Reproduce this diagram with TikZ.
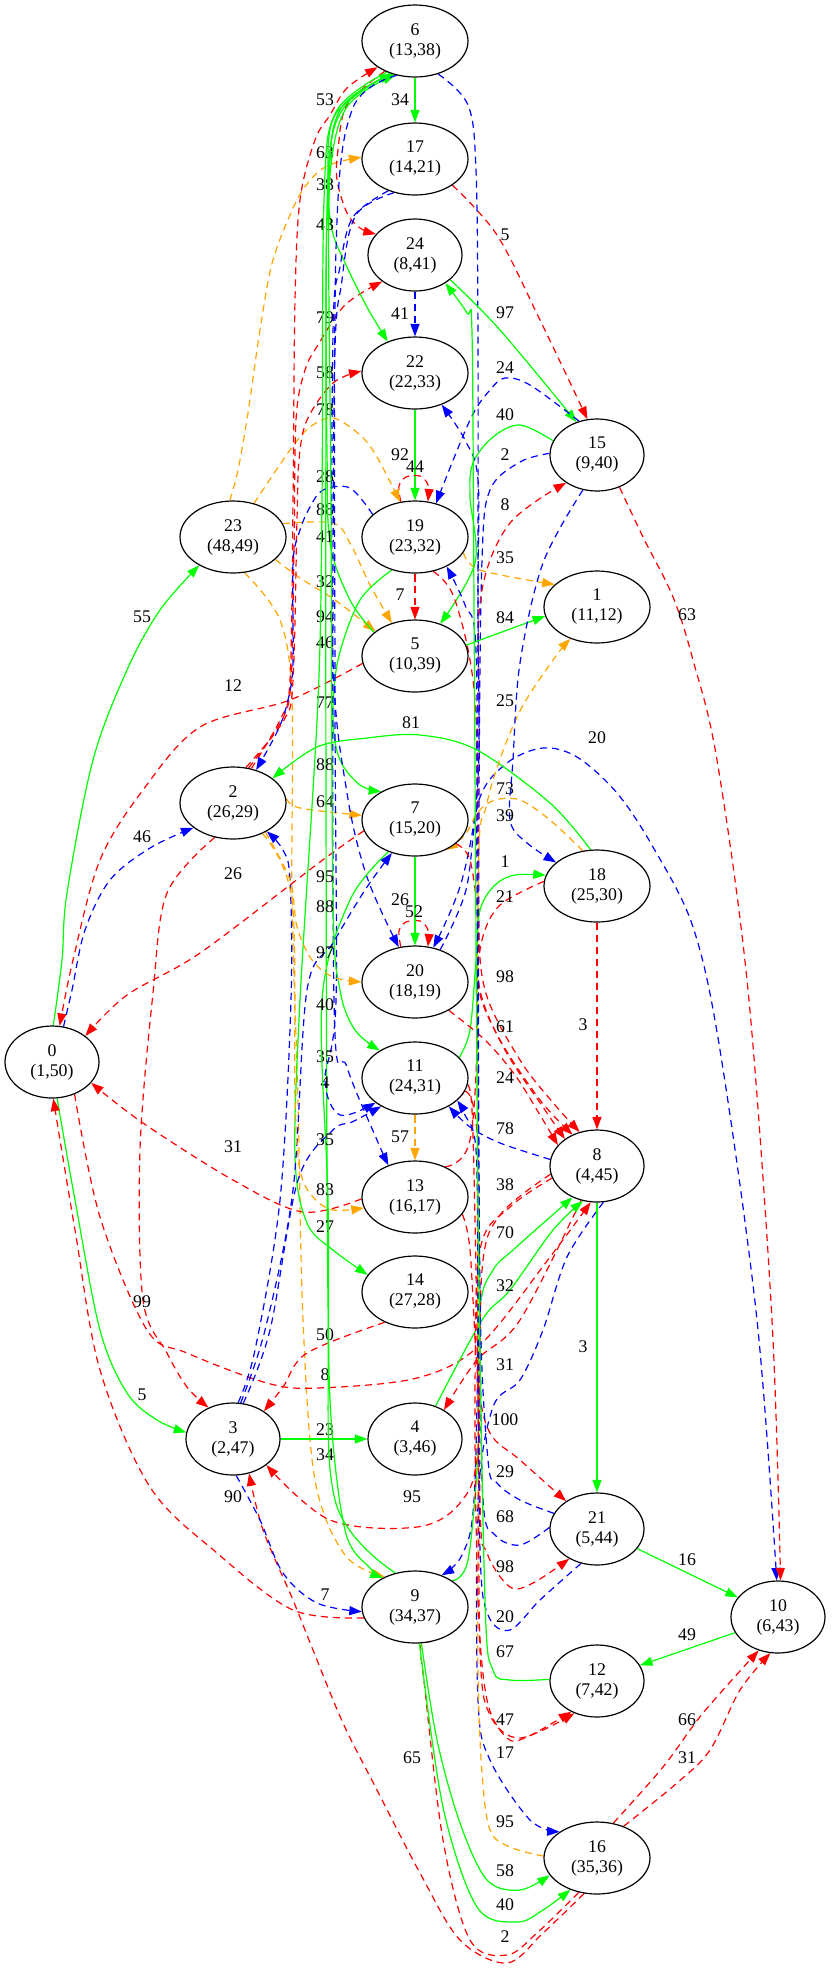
\documentclass[tikz,border=0pt]{standalone}
\usepackage{fontspec}
\setmainfont{Liberation Serif}
\usetikzlibrary{arrows.meta,shapes.geometric,backgrounds}
\definecolor{gvgreen}{HTML}{00FF00}
\definecolor{gvred}{HTML}{FF0000}
\definecolor{gvblue}{HTML}{0000FF}
\definecolor{gvorange}{HTML}{FFA500}
% one edge: style, route (start anchor, bends, end anchor), label name, label position, label text
\newcommand\gvedge[5]{\draw[#1] plot[smooth,tension=0.55] coordinates {#2} node[lab] (#3) at (#4) {#5};}
\begin{document}
\begin{tikzpicture}[x=1pt,y=-1pt,
  every node/.style={font=\fontsize{17.8}{20}\selectfont},
  vtx/.style={draw,ellipse,fill=white,line width=1.2pt,minimum height=72pt,inner sep=0pt,align=center},
  wide/.style={vtx,minimum width=106pt},
  narrow/.style={vtx,minimum width=94pt},
  lab/.style={inner sep=0pt},
  base/.style={line width=1.2pt,-{Triangle[length=12.5pt,width=9pt]}},
  G/.style={base,draw=gvgreen},
  R/.style={base,draw=gvred,dash pattern=on 7pt off 5pt},
  B/.style={base,draw=gvblue,dash pattern=on 7pt off 5pt},
  O/.style={base,draw=gvorange,dash pattern=on 7pt off 5pt}]

\useasboundingbox (0,0) rectangle (831,1971);

% vertices
\node[wide] (n6) at (415,41) {6\\(13,38)};
\node[wide] (n17) at (415,159) {17\\(14,21)};
\node[narrow] (n24) at (415,255) {24\\(8,41)};
\node[wide] (n22) at (415,373) {22\\(22,33)};
\node[narrow] (n15) at (597,455) {15\\(9,40)};
\node[wide] (n23) at (233,537) {23\\(48,49)};
\node[wide] (n19) at (415,537) {19\\(23,32)};
\node[wide] (n1) at (597,607) {1\\(11,12)};
\node[wide] (n5) at (415,656) {5\\(10,39)};
\node[wide] (n2) at (233,803) {2\\(26,29)};
\node[wide] (n7) at (415,820) {7\\(15,20)};
\node[wide] (n18) at (597,886) {18\\(25,30)};
\node[wide] (n20) at (415,982) {20\\(18,19)};
\node[narrow] (n0) at (52,1062) {0\\(1,50)};
\node[wide] (n11) at (415,1078) {11\\(24,31)};
\node[narrow] (n8) at (597,1166) {8\\(4,45)};
\node[wide] (n13) at (415,1197) {13\\(16,17)};
\node[wide] (n14) at (415,1292) {14\\(27,28)};
\node[narrow] (n3) at (233,1439) {3\\(2,47)};
\node[narrow] (n4) at (415,1439) {4\\(3,46)};
\node[narrow] (n21) at (597,1529) {21\\(5,44)};
\node[wide] (n9) at (415,1607) {9\\(34,37)};
\node[narrow] (n10) at (778,1617) {10\\(6,43)};
\node[narrow] (n12) at (597,1681) {12\\(7,42)};
\node[wide] (n16) at (597,1858) {16\\(35,36)};

\begin{pgfonlayer}{background}
\fill[white] (0,0) rectangle (831,1971);

% upper part
\gvedge{G}{(n6.south) (n17.north)}{e1}{400,100}{34}
\gvedge{R}{(n17.-35) (497,235) (540,320) (n15.105)}{e2}{505,235}{5}
\gvedge{B}{(n6.-55) (468,105) (476,170) (478,340) (478,600) (478,780) (462,880) (n20.62)}{e3}{505,701}{25}
\gvedge{B}{(n20.52) (466,890) (479,800) (507,763) (543,748) (577,757) (617,793) (653,847) (693,927) (720,1050) (757,1320) (n10.92)}{e4}{597,738}{20}
\gvedge{R}{(n15.-55) (643,537) (673,597) (693,660) (717,760) (748,990) (772,1320) (n10.86)}{e5}{687,615}{63}
\gvedge{G}{(n24.-35) (500,330) (n15.122)}{e6}{505,313}{97}
\gvedge{B}{(n15.118) (530,385) (505,378) (490,390) (470,420) (n19.58)}{e7}{505,368}{24}
\gvedge{G}{(n15.162) (520,425) (493,437) (473,463) (470,497) (475,563) (n5.52)}{e8}{505,415}{40}
\gvedge{B}{(n15.178) (520,462) (490,490) (482,560) (479,800) (478,1300) (474,1500) (462,1555) (n9.50)}{e9}{505,455}{2}
\gvedge{R}{(n13.45) (470,1140) (478,1000) (478,700) (482,590) (510,523) (n15.-138)}{e10}{505,505}{8}
\gvedge{O}{(n19.-18) (480,570) (n1.152)}{e11}{505,558}{35}
\gvedge{G}{(n5.12) (n1.190)}{e12}{505,618}{84}
\gvedge{R}{(n19.south) (n5.north)}{e13}{400,595}{7}
\gvedge{G}{(n22.south) (n19.north)}{e14}{415,467}{44}
\gvedge{B}{(n24.south) (n22.north)}{e15}{400,314}{41}
\gvedge{R}{(n19.112) (399,486) (406,477) (420,476) (428,485) (n19.70)}{e16}{400,455}{92}
\gvedge{R}{(n20.112) (399,931) (406,922) (420,921) (428,930) (n20.70)}{e17}{400,900}{26}
\gvedge{G}{(n7.south) (n20.north)}{e18}{414,912}{52}

% edges leaving 23
\gvedge{O}{(n23.95) (238,470) (248,413) (260,330) (273,260) (297,200) (317,173) (335,163) (n17.178)}{e19}{325,153}{63}
\gvedge{O}{(n23.58) (290,450) (310,427) (333,418) (360,435) (377,457) (n19.113)}{e20}{325,410}{78}
\gvedge{O}{(n23.15) (333,523) (350,543) (370,585) (n5.125)}{e21}{325,510}{88}
\gvedge{O}{(n23.-28) (300,578) (335,600) (n5.148)}{e22}{325,582}{32}
\gvedge{O}{(n23.-72) (280,620) (292,700) (292,900) (298,1100) (303,1320) (315,1480) (345,1555) (n9.135)}{e23}{325,1455}{34}

% left side
\gvedge{G}{(n0.88) (62,960) (67,893) (93,760) (127,670) (160,610) (n23.-140)}{e24}{142,617}{55}
\gvedge{R}{(n5.188) (290,700) (200,727) (143,790) (100,860) (73,960) (n0.78)}{e25}{233,686}{12}
\gvedge{B}{(n0.72) (72,990) (85,930) (110,880) (150,848) (n2.-148)}{e26}{142,837}{46}
\gvedge{R}{(n7.192) (320,862) (200,953) (127,995) (n0.38)}{e27}{233,874}{26}
\gvedge{O}{(n2.5) (300,808) (n7.175)}{e28}{325,802}{64}
\gvedge{G}{(n18.100) (550,803) (477,750) (420,735) (367,738) (317,747) (n2.32)}{e29}{411,723}{81}
\gvedge{R}{(n13.182) (303,1212) (233,1180) (143,1123) (n0.-28)}{e30}{233,1147}{31}
\gvedge{R}{(n2.-118) (167,893) (153,993) (140,1150) (143,1300) (167,1353) (187,1387) (n3.128)}{e31}{142,1302}{99}
\gvedge{G}{(n0.-82) (75,1200) (100,1330) (127,1393) (157,1420) (n3.172)}{e32}{142,1395}{5}
\gvedge{R}{(n9.-168) (293,1610) (217,1553) (150,1487) (100,1370) (75,1230) (n0.-88)}{e33}{233,1497}{90}
\gvedge{R}{(n0.-55) (100,1217) (147,1330) (187,1353) (267,1383) (317,1388) (417,1378) (480,1345) (550,1257) (n8.-100)}{e34}{325,1375}{8}

% around 8, 4, 21
\gvedge{R}{(n8.-115) (520,1320) (477,1360) (n4.45)}{e35}{505,1365}{31}
\gvedge{G}{(n4.58) (482,1320) (510,1290) (553,1230) (n8.-112)}{e36}{505,1286}{32}
\gvedge{G}{(n9.35) (468,1560) (478,1450) (480,1310) (493,1270) (513,1250) (n8.-128)}{e37}{505,1233}{70}
\gvedge{B}{(n8.-80) (567,1257) (543,1330) (520,1380) (493,1407) (478,1500) (478,1700) (490,1760) (530,1820) (n16.145)}{e38}{505,1753}{17}
\gvedge{R}{(n18.south) (n8.north)}{e39}{583,1025}{3}
\gvedge{G}{(n8.south) (n21.north)}{e40}{583,1347}{3}
\gvedge{G}{(n21.-26) (n10.154)}{e41}{687,1560}{16}
\gvedge{G}{(n10.-160) (n12.20)}{e42}{687,1635}{49}
\gvedge{R}{(n16.65) (663,1767) (703,1713) (n10.-120)}{e43}{687,1720}{66}
\gvedge{R}{(n16.50) (677,1783) (710,1750) (740,1690) (n10.-102)}{e44}{687,1758}{31}

% bottom
\gvedge{R}{(n16.-110) (543,1933) (507,1963) (460,1940) (420,1873) (377,1790) (343,1723) (313,1650) (293,1600) (263,1530) (n3.-65)}{e45}{412,1758}{65}
\gvedge{R}{(n16.-118) (537,1933) (507,1955) (470,1940) (443,1840) (423,1673) (n9.-85)}{e46}{505,1937}{2}
\gvedge{G}{(n9.-80) (437,1740) (460,1823) (487,1880) (520,1890) (n16.-160)}{e47}{505,1871}{58}
\gvedge{G}{(n9.-83) (443,1807) (477,1907) (517,1922) (543,1910) (n16.-130)}{e48}{505,1905}{40}
\gvedge{O}{(n16.178) (510,1847) (490,1830) (482,1773) (478,1673) (478,1500) (478,900) (487,803) (517,717) (553,660) (n1.-130)}{e49}{505,1822}{95}

% right bundle
\gvedge{O}{(n18.112) (550,820) (520,800) (495,800) (478,812) (465,835) (n7.-45)}{e50}{505,789}{73}
\gvedge{B}{(n15.-112) (543,563) (520,663) (513,760) (510,820) (527,843) (n18.150)}{e51}{505,816}{39}
\gvedge{G}{(n11.25) (470,1030) (476,960) (480,910) (495,885) (515,875) (n18.168)}{e52}{505,862}{1}
\gvedge{R}{(n18.175) (500,905) (482,940) (479,990) (500,1040) (540,1100) (n8.128)}{e53}{505,897}{21}
\gvedge{R}{(n7.-30) (470,860) (478,920) (480,990) (505,1050) (545,1110) (n8.140)}{e54}{505,977}{98}
\gvedge{R}{(n19.-62) (455,600) (475,700) (478,900) (485,990) (520,1060) (555,1105) (n8.117)}{e55}{505,1027}{61}
\gvedge{R}{(n20.-40) (485,1040) (515,1075) (540,1115) (n8.152)}{e56}{505,1078}{24}
\gvedge{B}{(n8.172) (500,1143) (470,1127) (n11.-40)}{e57}{505,1129}{78}
\gvedge{R}{(n8.-165) (510,1207) (480,1250) (475,1400) (478,1600) (487,1700) (507,1738) (527,1737) (n12.-130)}{e58}{505,1185}{38}
\gvedge{R}{(n11.-20) (472,1110) (478,1400) (480,1650) (490,1715) (520,1738) (n12.-125)}{e59}{505,1720}{47}
\gvedge{R}{(n8.-170) (500,1215) (482,1270) (478,1450) (460,1503) (417,1527) (330,1520) (n3.-38)}{e60}{412,1497}{95}
\gvedge{R}{(n13.-20) (470,1250) (478,1380) (490,1433) (520,1460) (n21.138)}{e61}{505,1420}{100}
\gvedge{R}{(n11.-15) (478,1150) (480,1500) (487,1553) (510,1587) (533,1583) (n21.-133)}{e62}{505,1567}{98}
\gvedge{B}{(n21.160) (520,1500) (497,1483) (488,1460) (480,1300) (478,900) (478,600) (478,480) (465,440) (n22.-50)}{e63}{505,1472}{29}
\gvedge{B}{(n21.178) (520,1545) (495,1535) (483,1500) (480,1300) (477,900) (476,650) (465,605) (n19.-43)}{e64}{505,1517}{68}
\gvedge{B}{(n21.-115) (540,1600) (510,1630) (488,1615) (480,1550) (478,1300) (476,1150) (465,1115) (n11.-28)}{e65}{505,1617}{20}
\gvedge{G}{(n12.178) (510,1680) (493,1670) (485,1600) (478,1200) (474,600) (472,333) (467,313) (n24.-43)}{e66}{505,1652}{67}

% middle column
\gvedge{O}{(n11.south) (n13.north)}{e67}{400,1137}{57}
\gvedge{G}{(n3.east) (n4.west)}{e68}{325,1430}{23}
\gvedge{B}{(n3.-85) (260,1520) (283,1573) (317,1603) (n9.-175)}{e69}{325,1595}{7}
\gvedge{R}{(n14.-135) (307,1353) (283,1387) (n3.42)}{e70}{325,1335}{50}

% left bundle
\gvedge{R}{(n2.62) (280,720) (290,680) (293,500) (295,300) (300,200) (315,140) (330,115) (347,88) (n6.-145)}{e71}{325,100}{53}
\gvedge{R}{(n2.66) (282,720) (291,680) (294,550) (296,420) (305,370) (318,345) (345,305) (n24.-141)}{e72}{325,318}{79}
\gvedge{R}{(n2.70) (284,720) (293,680) (297,520) (299,460) (307,420) (333,383) (n22.178)}{e73}{325,373}{58}
\gvedge{R}{(n6.-135) (347,105) (338,150) (337,180) (347,213) (360,228) (n24.152)}{e74}{325,185}{38}
\gvedge{G}{(n6.-128) (335,115) (328,180) (332,230) (347,267) (367,307) (n22.131)}{e75}{325,225}{43}
\gvedge{G}{(n5.150) (350,600) (330,543) (327,450) (326,300) (330,150) (350,100) (n6.-125)}{e76}{325,537}{41}
\gvedge{G}{(n9.120) (335,1500) (328,1300) (326,800) (326,400) (328,200) (345,110) (n6.-120)}{e77}{325,643}{46}
\gvedge{B}{(n19.152) (350,488) (323,490) (310,507) (300,530) (293,563) (293,663) (288,700) (278,730) (n2.55)}{e78}{325,477}{28}
\gvedge{G}{(n19.-125) (360,600) (338,660) (333,720) (340,760) (360,785) (n7.140)}{e79}{325,703}{77}
\gvedge{B}{(n17.-130) (353,217) (340,267) (333,333) (333,660) (347,793) (367,877) (n20.115)}{e80}{325,765}{88}
\gvedge{B}{(n17.-122) (356,215) (342,280) (334,400) (334,1000) (347,1067) (377,1140) (n13.130)}{e81}{325,617}{94}
\gvedge{B}{(n6.-118) (352,110) (336,250) (335,700) (336,1000) (325,1080) (340,1115) (n11.-148)}{e82}{325,1083}{4}
\gvedge{G}{(n6.-124) (340,110) (329,200) (331,500) (333,900) (340,990) (355,1030) (n11.142)}{e83}{325,1057}{35}
\gvedge{G}{(n6.-132) (336,112) (324,200) (322,500) (318,700) (300,1000) (295,1157) (307,1223) (333,1250) (n14.160)}{e84}{325,1227}{27}
\gvedge{G}{(n7.-130) (350,900) (322,1000) (328,1200) (330,1400) (345,1530) (370,1568) (n9.138)}{e85}{325,1005}{40}
\gvedge{B}{(n3.82) (255,1350) (280,1200) (291,1000) (290,880) (283,850) (n2.-40)}{e86}{325,877}{95}
\gvedge{B}{(n3.78) (265,1330) (293,1190) (307,990) (333,943) (365,890) (n7.-125)}{e87}{325,907}{88}
\gvedge{B}{(n3.74) (270,1330) (298,1180) (333,1130) (352,1122) (n11.-140)}{e88}{325,1140}{35}
\gvedge{O}{(n2.-42) (290,880) (297,927) (312,960) (333,977) (n20.180)}{e89}{325,953}{97}
\gvedge{O}{(n2.-46) (292,900) (295,1100) (300,1170) (313,1197) (333,1210) (n13.-168)}{e90}{325,1190}{83}
\end{pgfonlayer}
\end{tikzpicture}
\end{document}
